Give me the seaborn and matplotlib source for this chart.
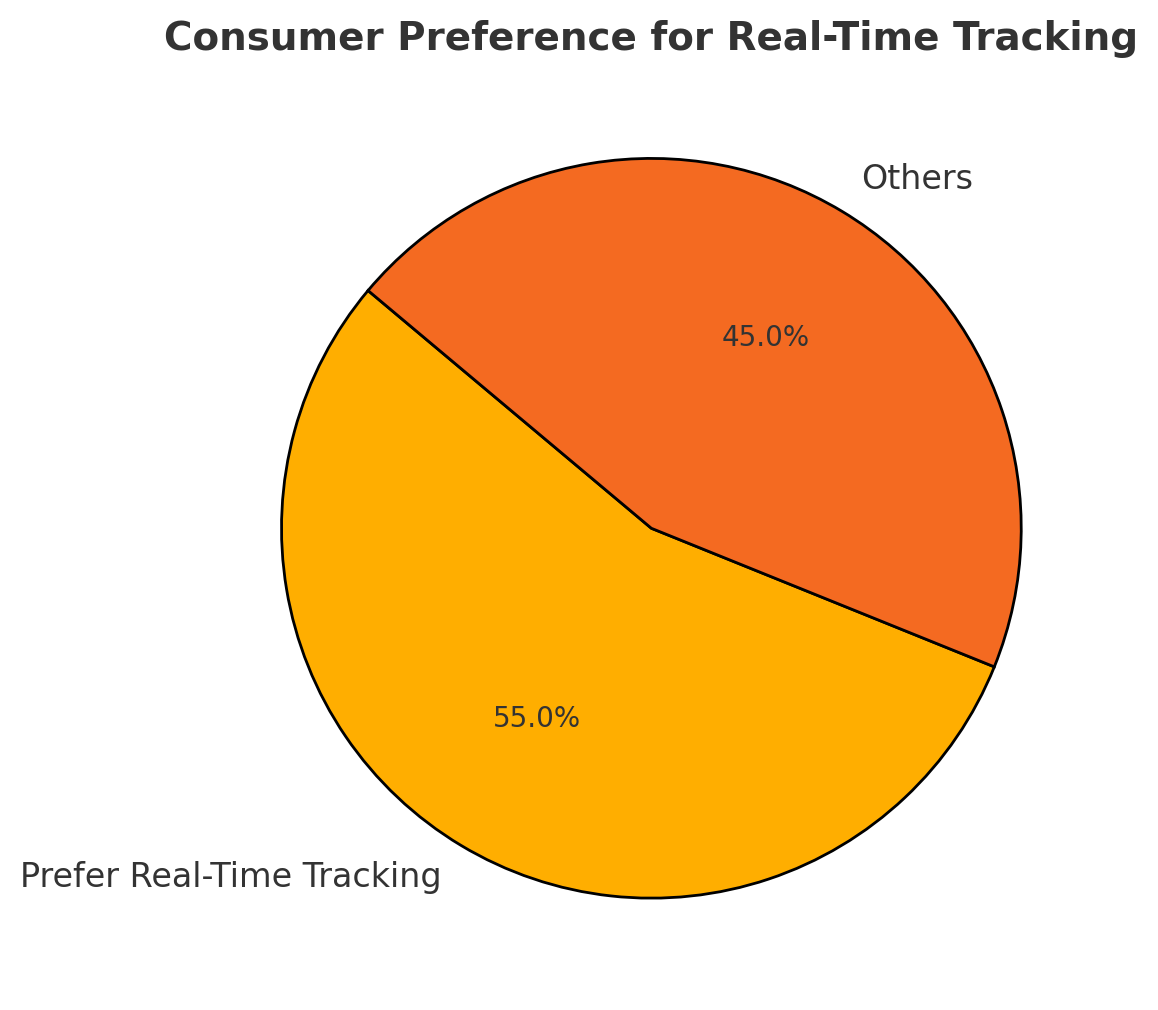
import matplotlib
matplotlib.use("Agg")
import matplotlib.pyplot as plt
import seaborn as sns

sns.set_theme(style="white")
plt.rcParams['font.family'] = ['DejaVu Sans']

labels = ["Prefer Real-Time Tracking", "Others"]
values = [55, 45]
colors = ["#FFAE00", "#F46A21"]

fig = plt.figure(figsize=(11.58, 10.10), dpi=100)
ax = fig.add_axes([0.1630, 0.0192, 0.799, 0.9155])
wedges, texts, autotexts = ax.pie(
    values, labels=labels, colors=colors, autopct="%1.1f%%", startangle=140,
    wedgeprops=dict(edgecolor="black", linewidth=2),
    textprops=dict(color="#333333", fontsize=24),
)
for t in autotexts:
    t.set_fontsize(20)
    t.set_color("#333333")
ax.set_aspect("equal")
fig.text(0.562, 0.961, "Consumer Preference for Real-Time Tracking",
         ha="center", va="center", fontsize=28, fontweight="bold", color="#333333")
fig.savefig("out.png", dpi=100)
